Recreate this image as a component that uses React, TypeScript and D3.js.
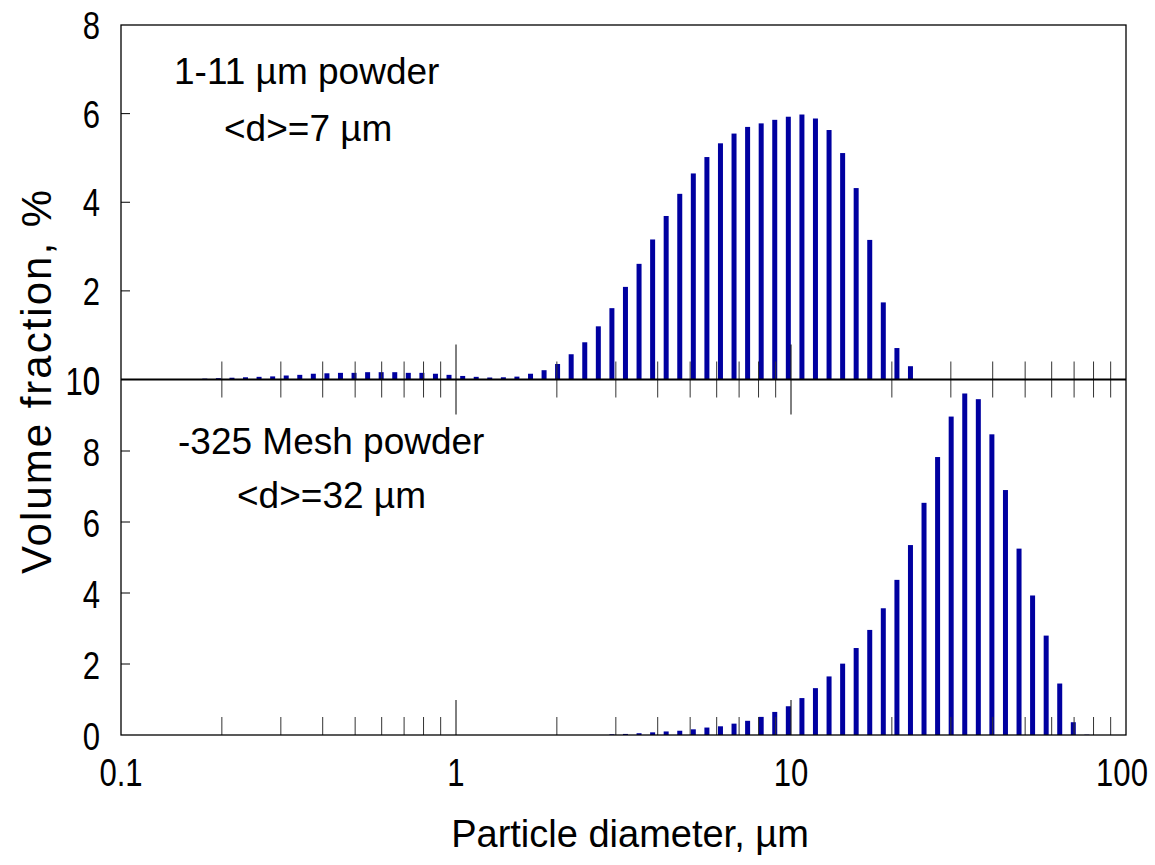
import React from "react";
import * as d3 from "d3";

// Channel diameters (µm) of the size analyser
const diameters = [
  0.1779, 0.1953, 0.2144, 0.2353, 0.2583, 0.2836, 0.3113, 0.3417, 0.3751, 0.4118,
  0.452, 0.4962, 0.5447, 0.5979, 0.6564, 0.7205, 0.791, 0.8683, 0.9531, 1.047,
  1.149, 1.261, 1.385, 1.52, 1.669, 1.832, 2.01, 2.207, 2.423, 2.66,
  2.92, 3.205, 3.519, 3.863, 4.24, 4.655, 5.11, 5.61, 6.158, 6.76,
  7.421, 8.147, 8.943, 9.818, 10.78, 11.83, 12.99, 14.26, 15.65, 17.18,
  18.86, 20.71, 22.73, 24.95, 27.39, 30.07, 33.01, 36.24, 39.78, 43.67,
  47.94, 52.62, 57.77, 63.41, 69.61, 76.42,
];

// 1-11 µm powder (volume %, one value per channel, starting at diameters[0])
const fineValues = [
  0.02, 0.03, 0.04, 0.05, 0.06, 0.07, 0.09, 0.105, 0.13, 0.14,
  0.15, 0.15, 0.165, 0.165, 0.165, 0.15, 0.15, 0.13, 0.105, 0.08,
  0.06, 0.045, 0.05, 0.065, 0.13, 0.21, 0.35, 0.57, 0.84, 1.2,
  1.61, 2.09, 2.61, 3.16, 3.69, 4.19, 4.65, 5.02, 5.33, 5.55,
  5.7, 5.78, 5.86, 5.93, 5.98, 5.89, 5.63, 5.11, 4.32, 3.15,
  1.74, 0.71, 0.3,
];

// -325 mesh powder (volume %, starting at diameters[30] = 2.92 µm)
const meshStart = 30;
const meshValues = [
  0.02, 0.03, 0.05, 0.075, 0.1, 0.12, 0.16, 0.21, 0.245, 0.32,
  0.4, 0.51, 0.65, 0.81, 1.04, 1.32, 1.65, 2.01, 2.45, 2.96,
  3.57, 4.37, 5.35, 6.54, 7.83, 8.97, 9.62, 9.46, 8.47, 6.9,
  5.25, 3.93, 2.8, 1.45, 0.36, 0.01,
];

const xTickLabels = ["0.1", "1", "10", "100"];
const topYTicks = [0, 2, 4, 6, 8];
const bottomYTicks = [0, 2, 4, 6, 8, 10];

const W = 1155;
const H = 865;
const FONT = "'Liberation Sans', Arial, sans-serif";
const BAR = "#0000A0";

function Label({ x, y, anchor, children }: { x: number; y: number; anchor: string; children: any }) {
  return (
    <text transform={`translate(${x},${y}) scale(0.84,1.04)`} textAnchor={anchor} fontSize={37}>
      {children}
    </text>
  );
}

export default function App() {
  const x = d3.scaleLog().domain([0.1, 100]).range([121, 1126]);
  const yTop = d3.scaleLinear().domain([0, 8]).range([379.5, 25]);
  const yBot = d3.scaleLinear().domain([0, 10]).range([735, 380]);
  const mid = yTop(0);
  const bottom = yBot(0);
  const barW = 5;

  const minorTicks: number[] = [];
  for (const dec of [0.1, 1, 10]) {
    for (let k = 2; k <= 9; k++) minorTicks.push(dec * k);
  }
  const majorInner = [1, 10];

  const fineData = fineValues.map((v, i) => ({ d: diameters[i], v }));
  const meshData = meshValues.map((v, i) => ({ d: diameters[meshStart + i], v }));

  return (
    <svg
      width={W}
      height={H}
      style={{ position: "absolute", left: 0, top: 0, background: "#fff" }}
      fontFamily={FONT}
    >
      <rect x={0} y={0} width={W} height={H} fill="#fff" />

      {/* bars top */}
      {fineData.map((p, i) => (
        <rect
          key={"f" + i}
          x={x(p.d) - barW / 2}
          y={yTop(p.v)}
          width={barW}
          height={mid - yTop(p.v)}
          fill={BAR}
        />
      ))}
      {/* bars bottom */}
      {meshData.map((p, i) => (
        <rect
          key={"m" + i}
          x={x(p.d) - barW / 2}
          y={yBot(p.v)}
          width={barW}
          height={bottom - yBot(p.v)}
          fill={BAR}
        />
      ))}

      {/* x minor ticks at middle line and bottom */}
      {minorTicks.map((t, i) => (
        <g key={"mt" + i} stroke="#333" strokeWidth={1}>
          <line x1={x(t)} x2={x(t)} y1={mid - 18} y2={mid + 18} />
          <line x1={x(t)} x2={x(t)} y1={bottom - 18} y2={bottom} />
        </g>
      ))}
      {majorInner.map((t, i) => (
        <g key={"Mt" + i} stroke="#000" strokeWidth={1}>
          <line x1={x(t)} x2={x(t)} y1={mid - 35} y2={mid + 35} />
          <line x1={x(t)} x2={x(t)} y1={bottom - 35} y2={bottom} />
        </g>
      ))}

      {/* y ticks */}
      {topYTicks.slice(1, -1).map((t) => (
        <line key={"yt" + t} x1={x(0.1)} x2={x(0.1) + 9} y1={yTop(t)} y2={yTop(t)} stroke="#000" />
      ))}
      {bottomYTicks.slice(1, -1).map((t) => (
        <line key={"yb" + t} x1={x(0.1)} x2={x(0.1) + 9} y1={yBot(t)} y2={yBot(t)} stroke="#000" />
      ))}

      {/* frame */}
      <rect
        x={x(0.1)}
        y={yTop(8)}
        width={x(100) - x(0.1)}
        height={bottom - yTop(8)}
        fill="none"
        stroke="#000"
        strokeWidth={1.3}
      />
      <line x1={x(0.1)} x2={x(100)} y1={mid} y2={mid} stroke="#000" strokeWidth={2} />

      {/* y tick labels */}
      <g fill="#000">
        {topYTicks.map((t) => (
          <Label key={"lt" + t} x={100} y={yTop(t) + 14} anchor="end">
            {t}
          </Label>
        ))}
        {bottomYTicks.map((t) => (
          <Label key={"lb" + t} x={100} y={yBot(t) + 15} anchor="end">
            {t}
          </Label>
        ))}
      </g>

      {/* x tick labels */}
      <g fill="#000">
        {xTickLabels.map((l) => (
          <Label key={"xl" + l} x={l === "100" ? x(+l) - 4 : x(+l)} y={786} anchor="middle">
            {l}
          </Label>
        ))}
      </g>

      {/* axis titles */}
      <text x={630} y={847} fontSize={38} textAnchor="middle">
        Particle diameter, µm
      </text>
      <text
        transform={`translate(51, 381) rotate(-90)`}
        fontSize={42}
        letterSpacing={2}
        textAnchor="middle"
      >
        Volume fraction, %
      </text>

      {/* annotations */}
      <g fontSize={37}>
        <text x={174} y={84}>1-11 µm powder</text>
        <text x={224} y={141}>{"<d>=7 µm"}</text>
        <text x={178} y={454}>-325 Mesh powder</text>
        <text x={237} y={508}>{"<d>=32 µm"}</text>
      </g>
    </svg>
  );
}
